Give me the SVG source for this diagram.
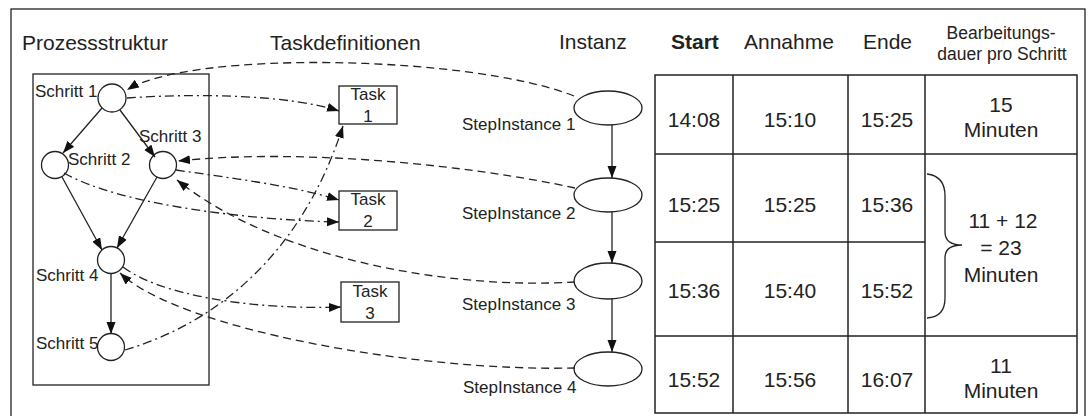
<svg xmlns="http://www.w3.org/2000/svg" width="1088" height="416" viewBox="0 0 1088 416">
  <style>
    .frame { fill: none; stroke: #222; stroke-width: 1.3; }
    .shape { fill: #fff; stroke: #222; stroke-width: 1.3; }
    .solid { fill: none; stroke: #222; stroke-width: 1.3; }
    .dash { fill: none; stroke: #222; stroke-width: 1.3; stroke-dasharray: 8 5; }
    .dashdot { fill: none; stroke: #222; stroke-width: 1.3; stroke-dasharray: 9 4 2 4; }
    .cell { fill: none; stroke: #222; stroke-width: 1.5; }
    text { font-family: "Liberation Sans", Arial, sans-serif; fill: #222; }
    .head { font-size: 21px; }
    .bold { font-size: 21px; font-weight: bold; }
    .small { font-size: 17px; }
    .val { font-size: 21px; text-anchor: middle; }
    .task { font-size: 17px; text-anchor: middle; }
    .sub { font-size: 17.5px; text-anchor: middle; }
  </style>
  <defs>
    <marker id="arrow" markerUnits="userSpaceOnUse" markerWidth="13" markerHeight="10" refX="12" refY="4.5" orient="auto">
      <path d="M0,0 L12,4.5 L0,9 z" fill="#111" stroke="none"/>
    </marker>
  </defs>

  <rect width="1088" height="416" fill="#fff"/>
  <!-- outer frame -->
  <rect class="frame" x="11" y="9" width="1074" height="420"/>

  <!-- column headers -->
  <text class="head" x="22" y="50">Prozessstruktur</text>
  <text class="head" x="270" y="50">Taskdefinitionen</text>
  <text class="head" x="559" y="49">Instanz</text>
  <text class="bold" x="671" y="49">Start</text>
  <text class="head" x="744" y="49">Annahme</text>
  <text class="head" x="863" y="49">Ende</text>
  <text class="sub" x="1001" y="39">Bearbeitungs-</text>
  <text class="sub" x="1002" y="60">dauer pro Schritt</text>

  <!-- process structure container -->
  <rect id="prozess" class="frame" x="33" y="74" width="176" height="311"/>

  <g id="schritt1">
    <circle class="shape" cx="112" cy="98" r="14"/>
    <text class="small" x="35" y="97">Schritt 1</text>
  </g>
  <g id="schritt2">
    <circle class="shape" cx="55" cy="165" r="13.5"/>
    <text class="small" x="68" y="165">Schritt 2</text>
  </g>
  <g id="schritt3">
    <circle class="shape" cx="163" cy="165" r="13.5"/>
    <text class="small" x="139" y="142">Schritt 3</text>
  </g>
  <g id="schritt4">
    <circle class="shape" cx="111" cy="260" r="13.5"/>
    <text class="small" x="36" y="281">Schritt 4</text>
  </g>
  <g id="schritt5">
    <circle class="shape" cx="111" cy="347" r="13.5"/>
    <text class="small" x="36" y="349">Schritt 5</text>
  </g>

  <!-- task definitions -->
  <g id="task1">
    <rect class="shape" x="339" y="86" width="58" height="38"/>
    <text class="task" x="368" y="100">Task</text>
    <text class="task" x="368" y="122">1</text>
  </g>
  <g id="task2">
    <rect class="shape" x="339" y="191" width="58" height="39"/>
    <text class="task" x="368" y="205">Task</text>
    <text class="task" x="368" y="227">2</text>
  </g>
  <g id="task3">
    <rect class="shape" x="341" y="282" width="58" height="40"/>
    <text class="task" x="370" y="297">Task</text>
    <text class="task" x="370" y="319">3</text>
  </g>

  <!-- step instances -->
  <g id="instance1">
    <ellipse class="shape" cx="608" cy="108" rx="34" ry="17"/>
    <text class="small" x="462" y="130">StepInstance 1</text>
  </g>
  <g id="instance2">
    <ellipse class="shape" cx="608" cy="195" rx="34" ry="17"/>
    <text class="small" x="462" y="219">StepInstance 2</text>
  </g>
  <g id="instance3">
    <ellipse class="shape" cx="608" cy="281" rx="34" ry="18"/>
    <text class="small" x="462" y="310">StepInstance 3</text>
  </g>
  <g id="instance4">
    <ellipse class="shape" cx="608" cy="369" rx="34" ry="17"/>
    <text class="small" x="463" y="393">StepInstance 4</text>
  </g>

  <!-- connectors -->
  <g id="connectors">
    <!-- process flow -->
    <path class="solid" d="M102,108 L63,153" marker-end="url(#arrow)"/>
    <path class="solid" d="M120,110 L155,157" marker-end="url(#arrow)"/>
    <path class="solid" d="M62,177 L102,250" marker-end="url(#arrow)"/>
    <path class="solid" d="M157,177 L117,248" marker-end="url(#arrow)"/>
    <path class="solid" d="M111,273 L111,334" marker-end="url(#arrow)"/>

    <!-- step to task -->
    <path class="dashdot" d="M127,98 C200,93 290,95 339,111" marker-end="url(#arrow)"/>
    <path class="dashdot" d="M176,170 C230,178 290,185 339,200" marker-end="url(#arrow)"/>
    <path class="dashdot" d="M64,173 C120,205 250,220 339,222" marker-end="url(#arrow)"/>
    <path class="dashdot" d="M123,267 C160,295 250,310 341,307" marker-end="url(#arrow)"/>
    <path class="dashdot" d="M125,350 C210,325 300,260 343,126" marker-end="url(#arrow)"/>

    <!-- instance to step -->
    <path class="dash" d="M574,96 C470,55 190,50 127,90" marker-end="url(#arrow)"/>
    <path class="dash" d="M575,188 C470,165 300,148 178,161" marker-end="url(#arrow)"/>
    <path class="dash" d="M575,282 C440,290 270,255 177,180" marker-end="url(#arrow)"/>
    <path class="dash" d="M575,368 C420,372 180,330 120,273" marker-end="url(#arrow)"/>

    <!-- instance sequence -->
    <path class="solid" d="M612,125 L612,178" marker-end="url(#arrow)"/>
    <path class="solid" d="M612,212 L612,263" marker-end="url(#arrow)"/>
    <path class="solid" d="M612,299 L612,352" marker-end="url(#arrow)"/>
  </g>

  <!-- time table -->
  <g id="table">
    <rect class="cell" x="655" y="75" width="422" height="338"/>
    <line class="cell" x1="733" y1="75" x2="733" y2="413"/>
    <line class="cell" x1="848" y1="75" x2="848" y2="413"/>
    <line class="cell" x1="925" y1="75" x2="925" y2="413"/>
    <line class="cell" x1="655" y1="154" x2="1077" y2="154"/>
    <line class="cell" x1="655" y1="242" x2="925" y2="242"/>
    <line class="cell" x1="655" y1="336" x2="1077" y2="336"/>

    <text class="val" x="694" y="127">14:08</text>
    <text class="val" x="790" y="127">15:10</text>
    <text class="val" x="887" y="127">15:25</text>
    <text class="val" x="1001" y="112">15</text>
    <text class="val" x="1001" y="137">Minuten</text>

    <text class="val" x="694" y="212">15:25</text>
    <text class="val" x="790" y="212">15:25</text>
    <text class="val" x="887" y="212">15:36</text>

    <text class="val" x="694" y="298">15:36</text>
    <text class="val" x="790" y="298">15:40</text>
    <text class="val" x="887" y="298">15:52</text>

    <path class="solid" d="M927,174 Q945,176 945,196 L945,232 Q945,245 962,245 Q945,245 945,258 L945,298 Q945,317 927,318"/>
    <text class="val" x="1003" y="228">11 + 12</text>
    <text class="val" x="1001" y="255">= 23</text>
    <text class="val" x="1001" y="282">Minuten</text>

    <text class="val" x="694" y="387">15:52</text>
    <text class="val" x="790" y="387">15:56</text>
    <text class="val" x="887" y="387">16:07</text>
    <text class="val" x="1001" y="373">11</text>
    <text class="val" x="1001" y="398">Minuten</text>
  </g>
</svg>
